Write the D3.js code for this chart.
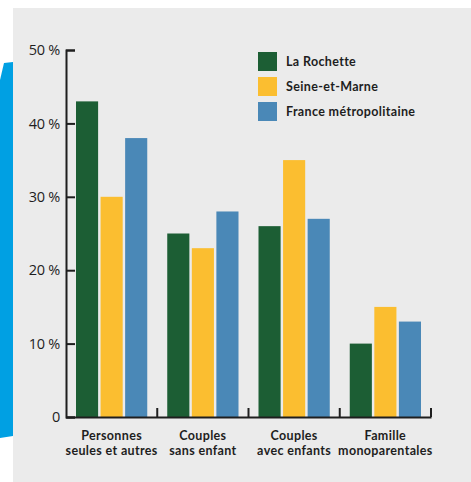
<!DOCTYPE html>
<html>
<head>
<meta charset="utf-8">
<script src="https://cdn.jsdelivr.net/npm/d3@7"></script>
<style>
  body { margin: 0; background: #fff; }
  text { font-family: "Open Sans", sans-serif; fill: #1e1e1e; }
  .cat, .leg { font-family: Lato, sans-serif; font-weight: 700; letter-spacing: 0.35px; }
</style>
</head>
<body>
<script>
// data
var categories = ["Personnes seules et autres", "Couples sans enfant", "Couples avec enfants", "Famille monoparentales"];
var categoryLines = [["Personnes", "seules et autres"], ["Couples", "sans enfant"], ["Couples", "avec enfants"], ["Famille", "monoparentales"]];
var series = ["La Rochette", "Seine-et-Marne", "France métropolitaine"];
var laRochette = [43, 25, 26, 10];
var seineEtMarne = [30, 23, 35, 15];
var france = [38, 28, 27, 13];
var yTicks = [0, 10, 20, 30, 40, 50];

var colors = ["#1c5e34", "#fbbe30", "#4a88b7"];
var values = [laRochette, seineEtMarne, france];

var svgWidth = 471;
var svgHeight = 482;

var svg = d3.select("body")
    .append("svg")
    .attr("width", svgWidth)
    .attr("height", svgHeight);

// gray panel
svg.append("rect")
    .attr("x", 13).attr("y", 8)
    .attr("width", svgWidth - 13).attr("height", svgHeight - 8)
    .attr("fill", "#ebebeb");

// blue band on the left
svg.append("polygon")
    .attr("points", "0,80 4,63 13,62 13,436 0,438")
    .attr("fill", "#00a0e3");

// scales
var xScale = d3.scaleBand()
    .domain(categories)
    .range([66, 431]);

var innerScale = d3.scaleBand()
    .domain(series)
    .range([10, xScale.bandwidth() - 10])
    .paddingInner(0.1);

var yScale = d3.scaleLinear()
    .domain([0, 50])
    .range([417, 50]);

// bars
var groups = svg.append("g")
    .selectAll("g")
    .data(categories)
    .enter()
    .append("g")
    .attr("transform", d => `translate(${xScale(d)},0)`);

groups.selectAll("rect")
    .data(function(d, i) {
        return series.map((s, j) => ({ s: s, v: values[j][i], c: colors[j] }));
    })
    .enter()
    .append("rect")
    .attr("x", d => innerScale(d.s))
    .attr("width", innerScale.bandwidth())
    .attr("y", d => yScale(d.v))
    .attr("height", d => yScale(0) - yScale(d.v))
    .attr("fill", d => d.c);

// y axis, ticks pointing inward
var yAxis = d3.axisLeft(yScale)
    .tickValues(yTicks)
    .tickSize(-9)
    .tickPadding(6)
    .tickFormat(d => d === 0 ? "0" : d + " %");

var yG = svg.append("g")
    .attr("class", "y-axis")
    .attr("transform", "translate(66,0)")
    .call(yAxis);
yG.select(".domain").attr("stroke", "#1e1e1e").attr("stroke-width", 2);
yG.selectAll(".tick line").attr("stroke", "#1e1e1e").attr("stroke-width", 2);
yG.selectAll(".tick text")
    .style("font-size", "14.5px")
    .style("letter-spacing", "-0.3px")
    .attr("fill", "#1e1e1e");

// x axis
var xAxis = d3.axisBottom(xScale).tickSize(0).tickFormat("");
var xG = svg.append("g")
    .attr("class", "x-axis")
    .attr("transform", "translate(0,417)")
    .call(xAxis);
xG.select(".domain").attr("stroke", "#1e1e1e").attr("stroke-width", 2);

// boundary ticks pointing up
xG.selectAll(".bound")
    .data(categories)
    .enter()
    .append("line")
    .attr("x1", d => xScale(d) + xScale.bandwidth())
    .attr("x2", d => xScale(d) + xScale.bandwidth())
    .attr("y1", 0)
    .attr("y2", -9)
    .attr("stroke", "#1e1e1e")
    .attr("stroke-width", 2);

// category labels, one text per line
categoryLines.forEach(function(lines, i) {
    svg.append("g")
        .selectAll("text")
        .data(lines)
        .enter()
        .append("text")
        .attr("class", "cat")
        .attr("text-anchor", "middle")
        .attr("x", xScale(categories[i]) + xScale.bandwidth() / 2)
        .attr("y", (d, j) => 440 + j * 15)
        .style("font-size", "12.5px")
        .text(d => d);
});

// legend
var legend = svg.append("g")
    .selectAll("g")
    .data(series)
    .enter()
    .append("g")
    .attr("transform", (d, i) => `translate(258,${52 + i * 25})`);

legend.append("rect")
    .attr("width", 19)
    .attr("height", 19)
    .attr("fill", (d, i) => colors[i]);

legend.append("text")
    .attr("class", "leg")
    .attr("x", 28)
    .attr("y", 13.5)
    .style("font-size", "12.5px")
    .text(d => d);
</script>
</body>
</html>
